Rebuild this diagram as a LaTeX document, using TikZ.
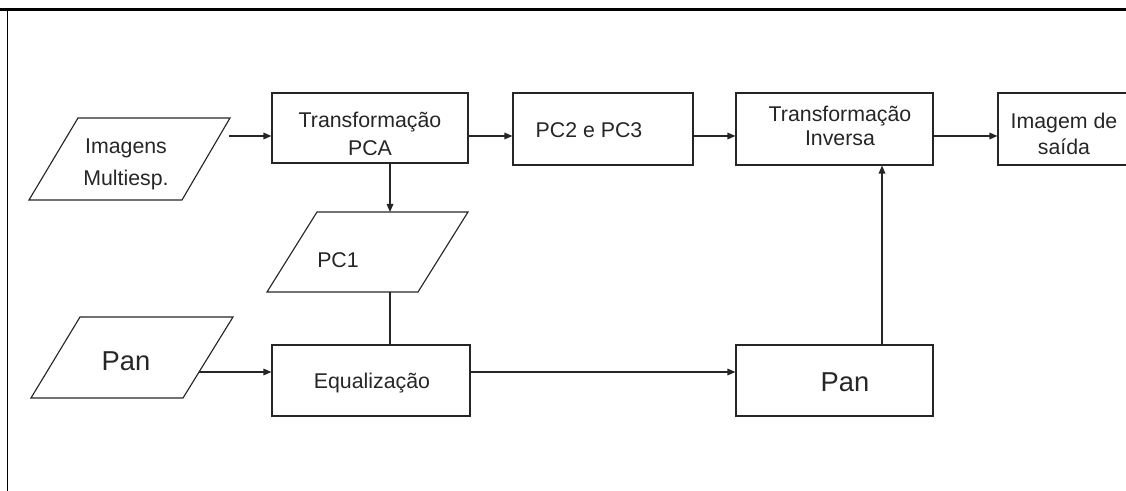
\documentclass[tikz,border=0pt]{standalone}
\usepackage{fontspec}
\setmainfont{Liberation Sans}
\usetikzlibrary{arrows.meta}
\definecolor{ink}{HTML}{262626}
\tikzset{
  box/.style={draw=ink, line width=0.85pt, inner sep=0pt},
  txt/.style={text=ink, font=\fontsize{16}{21}\selectfont, align=center, inner sep=0pt},
  bigtxt/.style={text=ink, font=\fontsize{20.5}{24}\selectfont, inner sep=0pt},
  para/.style={draw=ink, line width=0.85pt},
  arr/.style={draw=ink, line width=0.85pt, -{Triangle[length=6pt,width=5pt]}},
  link/.style={draw=ink, line width=0.85pt}
}
\begin{document}
\begin{tikzpicture}[x=0.75pt,y=-0.75pt]
\useasboundingbox (0,0) rectangle (1126,491);
% frame
\draw[line width=2.3pt, black] (0,9.5) -- (1126,9.5);
\draw[line width=1pt, black] (7.5,9.5) -- (7.5,491);

% row helpers
\coordinate (rowA) at (0,136);
\coordinate (rowB) at (0,372);
\coordinate (colPC) at (390,0);
\coordinate (colC) at (882,0);

% parallelogram: Imagens Multiesp.
\draw[para] (78,118) -- (230,118) -- (182,200) -- (29,200) -- cycle;
\node[txt, font=\fontsize{16}{24}\selectfont] (imgT) at (126,164) {Imagens\\Multiesp.};
\coordinate (imgR) at (229,136);

% parallelogram: PC1
\draw[para] (317,212) -- (468,212) -- (418,292) -- (267,292) -- cycle;
\node[txt] (pc1T) at (338,260) {PC1};
\coordinate (pc1top) at (390,212);
\coordinate (pc1bot) at (390,292);

% parallelogram: Pan
\draw[para] (80,317) -- (233,317) -- (183,398) -- (31,398) -- cycle;
\node[bigtxt] (panT) at (126,361) {Pan};
\coordinate (panR) at (199,372);

% boxes
\node[box, minimum width=196*0.75pt, minimum height=70*0.75pt] (pca) at (370,128) {};
\node[txt, font=\fontsize{16}{21}\selectfont] (pcaT) at (370,134) {Transformação\\PCA};

\node[box, minimum width=180*0.75pt, minimum height=72*0.75pt] (pc23) at (603,129) {};
\node[txt] (pc23T) at (589,130) {PC2 e PC3};

\node[box, minimum width=197*0.75pt, minimum height=72*0.75pt] (inv) at (834.5,129) {};
\node[txt, font=\fontsize{16}{18}\selectfont] (invT) at (840,126) {Transformação\\Inversa};

\node[box, minimum width=144*0.75pt, minimum height=72*0.75pt] (out) at (1070,129) {};
\node[txt, font=\fontsize{16}{19.5}\selectfont] (outT) at (1064,134) {Imagem de\\saída};

\node[box, minimum width=198*0.75pt, minimum height=71*0.75pt] (eq) at (371,380.5) {};
\node[txt] (eqT) at (372,383) {Equalização};

\node[box, minimum width=197*0.75pt, minimum height=71*0.75pt] (panb) at (834.5,380.5) {};
\node[bigtxt] (panbT) at (845,382) {Pan};

% connectors
\draw[arr] (imgR) -- (pca.west |- rowA);
\draw[arr] (pca.east |- rowA) -- (pc23.west |- rowA);
\draw[arr] (pc23.east |- rowA) -- (inv.west |- rowA);
\draw[arr] (inv.east |- rowA) -- (out.west |- rowA);
\draw[arr] (pca.south -| colPC) -- (pc1top);
\draw[link] (pc1bot) -- (eq.north -| colPC);
\draw[arr] (panR) -- (eq.west |- rowB);
\draw[arr] (eq.east |- rowB) -- (panb.west |- rowB);
\draw[arr] (panb.north -| colC) -- (inv.south -| colC);
\end{tikzpicture}
\end{document}
